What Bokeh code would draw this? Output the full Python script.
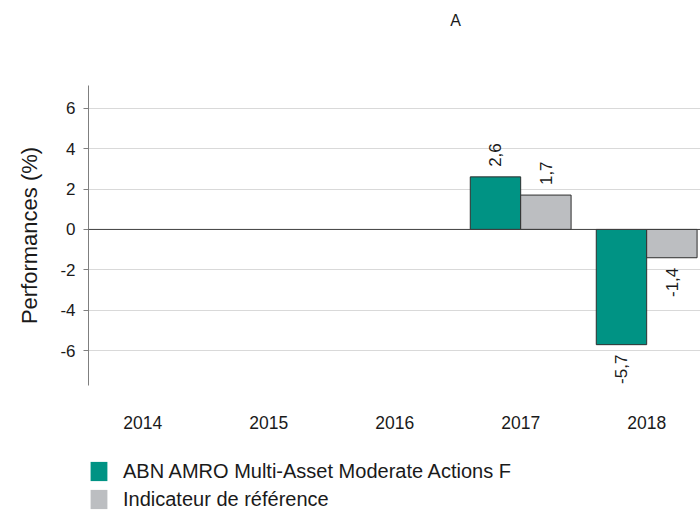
import math
from bokeh.plotting import figure
from bokeh.layouts import column
from bokeh.models import (ColumnDataSource, FixedTicker, Span, Legend, LegendItem)
from bokeh.transform import dodge
from bokeh.embed import file_html
from bokeh.resources import INLINE
from bokeh.core.properties import value

# ---- data ----
years = ["2014", "2015", "2016", "2017", "2018"]
fund_name = "ABN AMRO Multi-Asset Moderate Actions F"
bench_name = "Indicateur de référence"
fund_values = [None, None, None, 2.6, -5.7]
bench_values = [None, None, None, 1.7, -1.4]
y_ticks = [-6, -4, -2, 0, 2, 4, 6]
header_text = "A"

TEAL = "#009384"
GREY = "#bcbec1"
FONT = "Liberation Sans"
TXT = "#1a1a1a"

def fmt(v):
    return ("%.1f" % v).replace(".", ",")

def make_source(vals, positive=None):
    xs, tops, labels = [], [], []
    for i, v in enumerate(vals):
        if v is None:
            continue
        if positive is not None and (v >= 0) != positive:
            continue
        xs.append(i)
        tops.append(v)
        labels.append(fmt(v))
    return ColumnDataSource(dict(x=xs, top=tops, label=labels))

def bare(h, xr, yr):
    f = figure(width=700, height=h, output_backend="svg", toolbar_location=None,
               x_axis_type=None, y_axis_type=None, x_range=xr, y_range=yr,
               min_border_left=0, min_border_right=0, min_border_top=0,
               min_border_bottom=0)
    f.outline_line_color = None
    f.grid.visible = False
    return f

# ---- header (stray "A" mark); frames of the column are aligned at x=88..700 ----
hdr = bare(85, (88, 700), (0, 85))
hdr.text(x=[455], y=[65], text=[header_text], text_align="center",
         text_baseline="middle", text_font=value(FONT), text_font_size="16px",
         text_color=TXT)

# ---- main chart ----
fund_src = make_source(fund_values)
bench_src = make_source(bench_values)

p = figure(width=700, height=355, output_backend="svg", toolbar_location=None,
           x_range=(-0.43, -0.43 + 612 / 126.0), y_range=(-7.72, 7.12),
           min_border_left=88, min_border_right=0, min_border_top=0,
           min_border_bottom=0, frame_height=300, frame_width=612)
p.outline_line_color = None
p.background_fill_color = "white"

p.xgrid.grid_line_color = None
p.ygrid.ticker = FixedTicker(ticks=y_ticks)
p.ygrid.grid_line_color = "#d9d9d9"
p.ygrid.grid_line_width = 1

p.yaxis.ticker = FixedTicker(ticks=y_ticks)
p.yaxis.major_label_overrides = {t: str(t) for t in y_ticks}
p.yaxis.axis_line_color = "#7f7f7f"
p.yaxis.major_tick_line_color = "#7f7f7f"
p.yaxis.major_tick_out = 5
p.yaxis.major_tick_in = 0
p.yaxis.minor_tick_line_color = None
p.yaxis.major_label_text_font = FONT
p.yaxis.major_label_text_font_size = "17px"
p.yaxis.major_label_text_color = TXT
p.yaxis.major_label_standoff = 8
p.yaxis.axis_label = "Performances (%)"
p.yaxis.axis_label_text_font = FONT
p.yaxis.axis_label_text_font_size = "22px"
p.yaxis.axis_label_text_font_style = "normal"
p.yaxis.axis_label_text_color = TXT
p.yaxis.axis_label_standoff = 15

p.xaxis.ticker = FixedTicker(ticks=list(range(len(years))))
p.xaxis.major_label_overrides = {i: y for i, y in enumerate(years)}
p.xaxis.axis_line_color = None
p.xaxis.major_tick_line_color = None
p.xaxis.minor_tick_line_color = None
p.xaxis.major_label_text_font = FONT
p.xaxis.major_label_text_font_size = "17.5px"
p.xaxis.major_label_text_color = TXT
p.xaxis.major_label_standoff = 24

p.vbar(x=dodge("x", -0.2, range=p.x_range), top="top", bottom=0, width=0.4,
       source=fund_src, fill_color=TEAL, line_color="#2e2e2e", line_width=1)
p.vbar(x=dodge("x", 0.2, range=p.x_range), top="top", bottom=0, width=0.4,
       source=bench_src, fill_color=GREY, line_color="#2e2e2e", line_width=1)

p.add_layout(Span(location=0, dimension="width", line_color="#404040", line_width=1))

for vals, off in ((fund_values, -0.2), (bench_values, 0.2)):
    pos = make_source(vals, True)
    neg = make_source(vals, False)
    p.text(x=dodge("x", off, range=p.x_range), y="top", text="label", source=pos,
           angle=math.pi / 2, text_align="left", text_baseline="middle",
           y_offset=-10, text_font=value(FONT), text_font_size="17px",
           text_color=TXT)
    p.text(x=dodge("x", off, range=p.x_range), y="top", text="label", source=neg,
           angle=math.pi / 2, text_align="right", text_baseline="middle",
           y_offset=10, text_font=value(FONT), text_font_size="17px",
           text_color=TXT)

# ---- legend strip (zero-height proxy bars only provide swatches) ----
leg = bare(79, (0, 1), (0, 1))
proxy = dict(x=[0.5], top=[0], bottom=[0])
lg1 = leg.vbar(x="x", top="top", bottom="bottom", width=0.01,
               source=ColumnDataSource(proxy), fill_color=TEAL, line_color=None)
lg2 = leg.vbar(x="x", top="top", bottom="bottom", width=0.01,
               source=ColumnDataSource(proxy), fill_color=GREY, line_color=None)
legend = Legend(items=[LegendItem(label=fund_name, renderers=[lg1]),
                       LegendItem(label=bench_name, renderers=[lg2])],
                location=(0, -1), orientation="vertical",
                glyph_width=21, glyph_height=24, label_standoff=14,
                spacing=4, padding=0, margin=0,
                label_text_font=FONT, label_text_font_size="20px",
                label_text_color=TXT,
                border_line_color=None, background_fill_alpha=0)
leg.add_layout(legend, "center")

layout = column(hdr, p, leg, spacing=0)
open("out.html", "w").write(file_html(layout, INLINE))
